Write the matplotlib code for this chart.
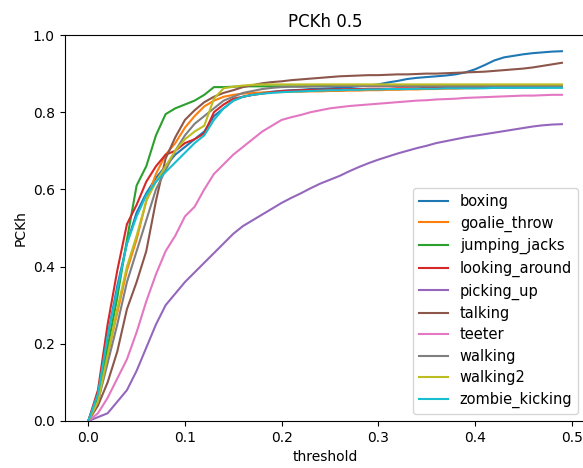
import numpy as np
import matplotlib
matplotlib.use('Agg')
import matplotlib.pyplot as plt

# thresholds 0.00 .. 0.49
thresholds = np.arange(50) * 0.01

boxing = [0, 0.07, 0.22, 0.35, 0.46, 0.54, 0.59, 0.63, 0.66, 0.69,
          0.71, 0.73, 0.75, 0.79, 0.81, 0.83, 0.84, 0.845, 0.85, 0.853,
          0.855, 0.857, 0.858, 0.86, 0.861, 0.862, 0.863, 0.865, 0.867, 0.869,
          0.872, 0.877, 0.881, 0.886, 0.889, 0.891, 0.893, 0.895, 0.898, 0.903,
          0.911, 0.922, 0.934, 0.942, 0.946, 0.95, 0.953, 0.955, 0.957, 0.958]
goalie_throw = [0, 0.05, 0.17, 0.28, 0.39, 0.47, 0.57, 0.64, 0.69, 0.72,
                0.76, 0.79, 0.815, 0.83, 0.84, 0.845, 0.848, 0.85, 0.851, 0.852,
                0.852, 0.853, 0.853, 0.854, 0.854, 0.855, 0.855, 0.856, 0.856, 0.857,
                0.857, 0.858, 0.858, 0.859, 0.859, 0.86, 0.86, 0.861, 0.861, 0.862,
                0.862, 0.863, 0.863, 0.864, 0.864, 0.865, 0.865, 0.866, 0.866, 0.866]
jumping_jacks = [0, 0.06, 0.19, 0.32, 0.47, 0.61, 0.66, 0.74, 0.795, 0.81,
                 0.82, 0.83, 0.845, 0.865, 0.865, 0.866, 0.867, 0.867, 0.867, 0.867,
                 0.867, 0.867, 0.867, 0.867, 0.868, 0.868, 0.868, 0.868, 0.868, 0.868,
                 0.868, 0.868, 0.868, 0.868, 0.868, 0.868, 0.868, 0.869, 0.869, 0.869,
                 0.869, 0.869, 0.869, 0.869, 0.869, 0.869, 0.869, 0.869, 0.869, 0.869]
looking_around = [0, 0.08, 0.25, 0.39, 0.51, 0.56, 0.62, 0.66, 0.69, 0.70,
                  0.72, 0.73, 0.745, 0.80, 0.82, 0.835, 0.84, 0.845, 0.848, 0.852,
                  0.855, 0.856, 0.857, 0.858, 0.858, 0.859, 0.859, 0.86, 0.86, 0.861,
                  0.861, 0.861, 0.862, 0.862, 0.862, 0.863, 0.863, 0.863, 0.863, 0.864,
                  0.864, 0.864, 0.864, 0.865, 0.865, 0.865, 0.865, 0.865, 0.866, 0.866]
picking_up = [0, 0.01, 0.02, 0.05, 0.08, 0.13, 0.19, 0.25, 0.30, 0.33,
              0.36, 0.385, 0.41, 0.435, 0.46, 0.485, 0.505, 0.52, 0.535, 0.55,
              0.565, 0.578, 0.59, 0.603, 0.615, 0.625, 0.635, 0.647, 0.658, 0.668,
              0.677, 0.685, 0.693, 0.70, 0.707, 0.713, 0.72, 0.725, 0.73, 0.735,
              0.739, 0.743, 0.747, 0.751, 0.755, 0.759, 0.763, 0.766, 0.768, 0.769]
talking = [0, 0.04, 0.10, 0.18, 0.29, 0.36, 0.44, 0.57, 0.68, 0.735,
           0.78, 0.805, 0.826, 0.84, 0.85, 0.857, 0.865, 0.87, 0.875, 0.878,
           0.88, 0.883, 0.885, 0.887, 0.889, 0.891, 0.893, 0.894, 0.895, 0.896,
           0.896, 0.897, 0.898, 0.898, 0.899, 0.90, 0.90, 0.901, 0.902, 0.903,
           0.904, 0.905, 0.907, 0.909, 0.911, 0.913, 0.916, 0.92, 0.924, 0.928]
teeter = [0, 0.02, 0.06, 0.11, 0.16, 0.23, 0.31, 0.38, 0.44, 0.48,
          0.53, 0.555, 0.60, 0.64, 0.665, 0.69, 0.71, 0.73, 0.75, 0.765,
          0.78, 0.787, 0.793, 0.80, 0.805, 0.81, 0.813, 0.816, 0.818, 0.82,
          0.822, 0.824, 0.826, 0.828, 0.83, 0.831, 0.833, 0.834, 0.835, 0.837,
          0.838, 0.839, 0.84, 0.841, 0.842, 0.843, 0.843, 0.844, 0.845, 0.845]
walking = [0, 0.05, 0.15, 0.25, 0.36, 0.44, 0.52, 0.60, 0.65, 0.70,
           0.74, 0.77, 0.79, 0.81, 0.83, 0.84, 0.85, 0.855, 0.86, 0.863,
           0.865, 0.866, 0.866, 0.867, 0.867, 0.867, 0.868, 0.868, 0.868, 0.868,
           0.868, 0.868, 0.868, 0.868, 0.868, 0.868, 0.868, 0.868, 0.868, 0.868,
           0.868, 0.868, 0.868, 0.868, 0.868, 0.868, 0.868, 0.868, 0.868, 0.868]
walking2 = [0, 0.05, 0.17, 0.29, 0.40, 0.48, 0.57, 0.62, 0.66, 0.70,
            0.73, 0.75, 0.765, 0.835, 0.862, 0.866, 0.869, 0.871, 0.872, 0.872,
            0.872, 0.872, 0.872, 0.872, 0.872, 0.872, 0.872, 0.872, 0.872, 0.872,
            0.872, 0.872, 0.872, 0.872, 0.872, 0.872, 0.872, 0.872, 0.872, 0.872,
            0.872, 0.872, 0.872, 0.872, 0.872, 0.872, 0.872, 0.872, 0.872, 0.872]
zombie_kicking = [0, 0.07, 0.22, 0.34, 0.46, 0.53, 0.585, 0.62, 0.645, 0.67,
                  0.695, 0.72, 0.74, 0.78, 0.81, 0.83, 0.84, 0.845, 0.848, 0.85,
                  0.852, 0.853, 0.854, 0.855, 0.856, 0.857, 0.857, 0.858, 0.858, 0.859,
                  0.859, 0.86, 0.86, 0.86, 0.861, 0.861, 0.861, 0.862, 0.862, 0.862,
                  0.862, 0.862, 0.863, 0.863, 0.863, 0.863, 0.863, 0.863, 0.863, 0.863]

series = {
    'boxing': boxing,
    'goalie_throw': goalie_throw,
    'jumping_jacks': jumping_jacks,
    'looking_around': looking_around,
    'picking_up': picking_up,
    'talking': talking,
    'teeter': teeter,
    'walking': walking,
    'walking2': walking2,
    'zombie_kicking': zombie_kicking,
}

fig = plt.figure(figsize=(5.83, 4.68), dpi=100)
# right spine falls just outside the saved image, as in the reference
ax = fig.add_axes([64.6 / 583, 47 / 468, 521 / 583, 386 / 468])

for name, vals in series.items():
    ax.plot(thresholds, vals, label=name)

ax.set_ylim(0, 1.0)
ax.set_title('PCKh 0.5')
ax.set_xlabel('threshold')
ax.set_ylabel('PCKh')
ax.legend(loc='lower right', fontsize=10.5, labelspacing=0.44)

fig.savefig('out.png', dpi=100)
